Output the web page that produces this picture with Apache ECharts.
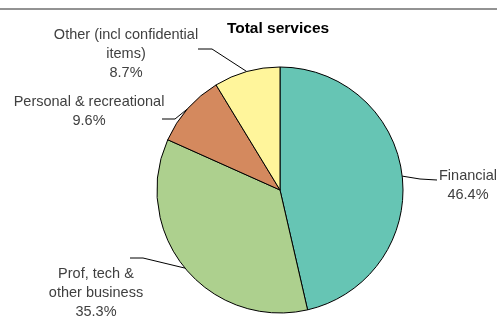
<!DOCTYPE html>
<html lang="en">
<head>
  <meta charset="UTF-8">
  <title>Total services</title>
  <script src="https://cdn.jsdelivr.net/npm/echarts@6/dist/echarts.min.js"></script>
  <style>
    html, body { margin: 0; padding: 0; background: #fff; }
  </style>
</head>
<body>
  <div id="app" style="width: 497px; height: 316px;"></div>
  <script>
    var categories = ['Financial', 'Prof, tech &\nother business', 'Personal & recreational', 'Other (incl confidential\nitems)']
    var shares = [46.4, 35.3, 9.6, 8.7]
    var colors = ['#66c5b4', '#add08e', '#d4895e', '#fff59b']

    // where each label sits (centre of text) and the elbow of its leader line
    var labelPos = [
      { x: 468, y: 185, elbow: [420, 179], end: [437, 180] },
      { x: 96, y: 293, elbow: [143, 258], end: [130, 258] },
      { x: 89, y: 111, elbow: [175, 119], end: [162, 119] },
      { x: 126, y: 54, elbow: [212, 49], end: [198, 49] }
    ]

    var mCharts = echarts.init(document.querySelector('#app'))

    var data = categories.map(function (name, i) {
      return { name: name, value: shares[i], itemStyle: { color: colors[i] } }
    })

    var option = {
      animation: false,
      title: {
        text: 'Total services',
        left: 273,
        top: 16,
        textAlign: 'center',
        textStyle: { fontFamily: 'Liberation Sans', fontSize: 15.5, fontWeight: 'bold', color: '#000' }
      },
      graphic: [{
        type: 'line',
        shape: { x1: 0, y1: 9, x2: 497, y2: 9 },
        style: { stroke: '#262626', lineWidth: 1 }
      }],
      series: [{
        type: 'pie',
        center: [280, 190],
        radius: 123,
        startAngle: 90,
        clockwise: true,
        data: data,
        itemStyle: { borderColor: '#000', borderWidth: 1 },
        emphasis: { disabled: true },
        label: {
          show: true,
          position: 'outside',
          fontFamily: 'Liberation Sans',
          fontSize: 14.5,
          lineHeight: 19,
          color: '#404040',
          align: 'center',
          formatter: function (p) {
            return p.name + '\n' + p.value.toFixed(1) + '%'
          }
        },
        labelLine: {
          show: true,
          length: 10,
          length2: 10,
          lineStyle: { color: '#000', width: 1 }
        },
        labelLayout: function (params) {
          var lp = labelPos[params.dataIndex]
          var start = params.labelLinePoints[0]
          return {
            x: lp.x,
            y: lp.y,
            align: 'center',
            verticalAlign: 'middle',
            labelLinePoints: [start, lp.elbow, lp.end]
          }
        }
      }]
    }
    mCharts.setOption(option)
  </script>
</body>
</html>
